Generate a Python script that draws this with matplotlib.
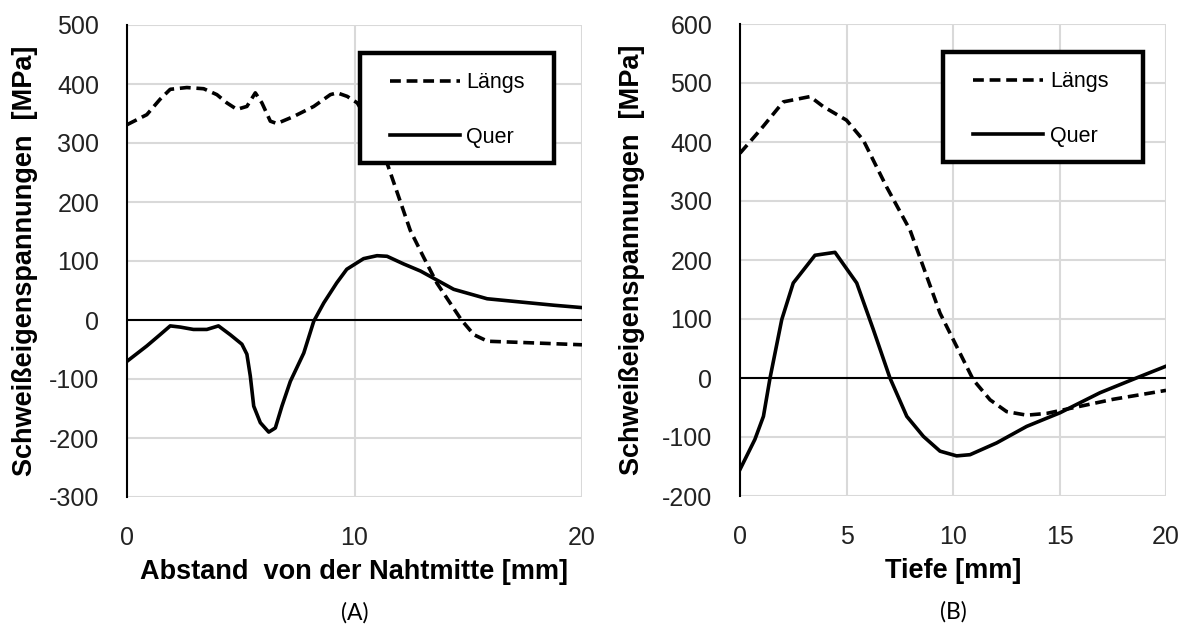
import matplotlib
matplotlib.use("Agg")
import matplotlib.pyplot as plt
from matplotlib.lines import Line2D
from matplotlib.patches import Rectangle

plt.rcParams['font.family'] = ['Liberation Sans', 'DejaVu Sans']
plt.rcParams['axes.unicode_minus'] = False

# Panel A data
a_laengs_x = [0, 0.87, 1.45, 1.9, 2.63, 3.37, 3.95, 4.39, 4.83, 5.27, 5.64, 5.93, 6.3,
              6.59, 7.33, 8.21, 8.94, 9.24, 9.68, 10.12, 10.8, 11.43, 12.45, 13.03,
              13.63, 14.7, 15.25, 15.85, 17.3, 20]
a_laengs_y = [331, 348, 374, 391, 394, 392, 382, 368, 357, 362, 385, 368, 337,
              333, 345, 362, 382, 385, 379, 368, 325, 266, 152, 107,
              62, 0, -25, -36, -38, -42]
a_quer_x = [0, 0.87, 1.45, 1.9, 2.34, 2.92, 3.51, 4.02, 4.54, 5.05, 5.27, 5.42, 5.57,
            5.86, 6.23, 6.52, 6.81, 7.18, 7.77, 8.21, 8.65, 9.22, 9.66, 10.4, 10.99,
            11.43, 12.16, 12.9, 14.36, 15.83, 18.77, 20]
a_quer_y = [-70, -44, -25, -10, -12, -16, -16, -10, -25, -41, -58, -95, -146,
            -174, -190, -183, -146, -104, -56, -2, 29, 63, 86, 104, 109,
            108, 95, 83, 52, 36, 25, 21]

# Panel B data
b_laengs_x = [0, 0.94, 2.03, 3.29, 3.91, 5.0, 5.79, 6.88, 7.98, 9.39, 10.33, 10.95,
              11.74, 12.52, 13.46, 14.4, 15.96, 17.53, 20]
b_laengs_y = [381, 420, 468, 477, 460, 437, 403, 324, 251, 110, 42, -3,
              -37, -57, -63, -60, -48, -36, -21]
b_quer_x = [0, 0.7, 1.1, 1.41, 1.96, 2.5, 3.52, 4.46, 5.48, 6.26, 7.04, 7.83, 8.61,
            9.39, 10.17, 10.8, 12.05, 13.46, 15.02, 16.9, 18.47, 20]
b_quer_y = [-155, -104, -65, 0, 99, 161, 208, 213, 161, 82, 0, -65, -99,
            -124, -132, -130, -110, -82, -59, -25, -2, 20]

a_xticks = [0, 10, 20]
a_yticks = list(range(-300, 501, 100))
b_xticks = [0, 5, 10, 15, 20]
b_yticks = list(range(-200, 601, 100))

ylabel = "Schweißeigenspannungen  [MPa]"
a_xlabel = "Abstand  von der Nahtmitte [mm]"
b_xlabel = "Tiefe [mm]"
labels = ["Längs", "Quer"]

DASH = (0, (3, 1.6))
LW = 2.6

fig = plt.figure(figsize=(11.89, 6.30), dpi=100)
W, H = 1189, 630

def make_ax(l, r, t, b):
    return fig.add_axes([l / W, 1 - b / H, (r - l) / W, (b - t) / H])

axA = make_ax(127, 582, 25, 497)
axB = make_ax(740, 1166, 24, 496)

def style(ax, xticks, yticks, xlabel, panel, ylab_x, frame, leg_anchor):
    ax.set_xlim(xticks[0], xticks[-1])
    ax.set_ylim(yticks[0], yticks[-1])
    ax.set_xticks(xticks)
    ax.set_yticks(yticks)
    ax.grid(True, color='#d9d9d9', linewidth=1.5)
    ax.set_axisbelow(True)
    for s in ['top', 'right', 'bottom']:
        ax.spines[s].set_visible(False)
    ax.spines['left'].set_linewidth(1.5)
    ax.spines['left'].set_color('black')
    ax.spines['left'].set_zorder(5)
    ax.axhline(0, color='black', linewidth=1.5, zorder=2)
    ax.tick_params(length=0, labelsize=18, colors='#222222')
    ax.tick_params(axis='y', pad=20)
    ax.tick_params(axis='x', pad=21)
    ax.set_xlabel(xlabel, fontsize=19.5, fontweight='bold')
    ax.xaxis.label.set_va('center')
    ax.xaxis.set_label_coords(0.5, -0.159)
    ax.set_ylabel(ylabel, fontsize=19.5, fontweight='bold')
    ax.yaxis.label.set_va('center')
    ax.yaxis.set_label_coords(ylab_x, 0.5)
    ax.text(0.5, -0.245, panel, transform=ax.transAxes, ha='center', va='center',
            fontsize=16.5, family=['Lato', 'DejaVu Sans'])
    x0, x1, y0, y1 = frame
    ax.add_patch(Rectangle((x0, y0), x1 - x0, y1 - y0, transform=ax.transAxes,
                           facecolor='white', edgecolor='black', lw=3.2,
                           clip_on=False, zorder=9))
    handles = [Line2D([], [], color='black', lw=LW, ls=DASH),
               Line2D([], [], color='black', lw=LW)]
    leg = ax.legend(handles, labels, loc='center left', bbox_to_anchor=leg_anchor,
                    fontsize=15.5, frameon=False, borderpad=0,
                    labelspacing=1.55, handlelength=3.25, handletextpad=0.3,
                    borderaxespad=0)
    leg.set_zorder(10)

axA.plot(a_laengs_x, a_laengs_y, color='black', lw=LW, ls=DASH, zorder=3)
axA.plot(a_quer_x, a_quer_y, color='black', lw=LW, zorder=3)
axB.plot(b_laengs_x, b_laengs_y, color='black', lw=LW, ls=DASH, zorder=3)
axB.plot(b_quer_x, b_quer_y, color='black', lw=LW, zorder=3)

style(axA, a_xticks, a_yticks, a_xlabel, "(A)", -0.224,
      (0.512, 0.938, 0.708, 0.941), (0.578, 0.82))
style(axB, b_xticks, b_yticks, b_xlabel, "(B)", -0.2535,
      (0.476, 0.946, 0.708, 0.941), (0.548, 0.82))

fig.savefig("out.png", dpi=100)
